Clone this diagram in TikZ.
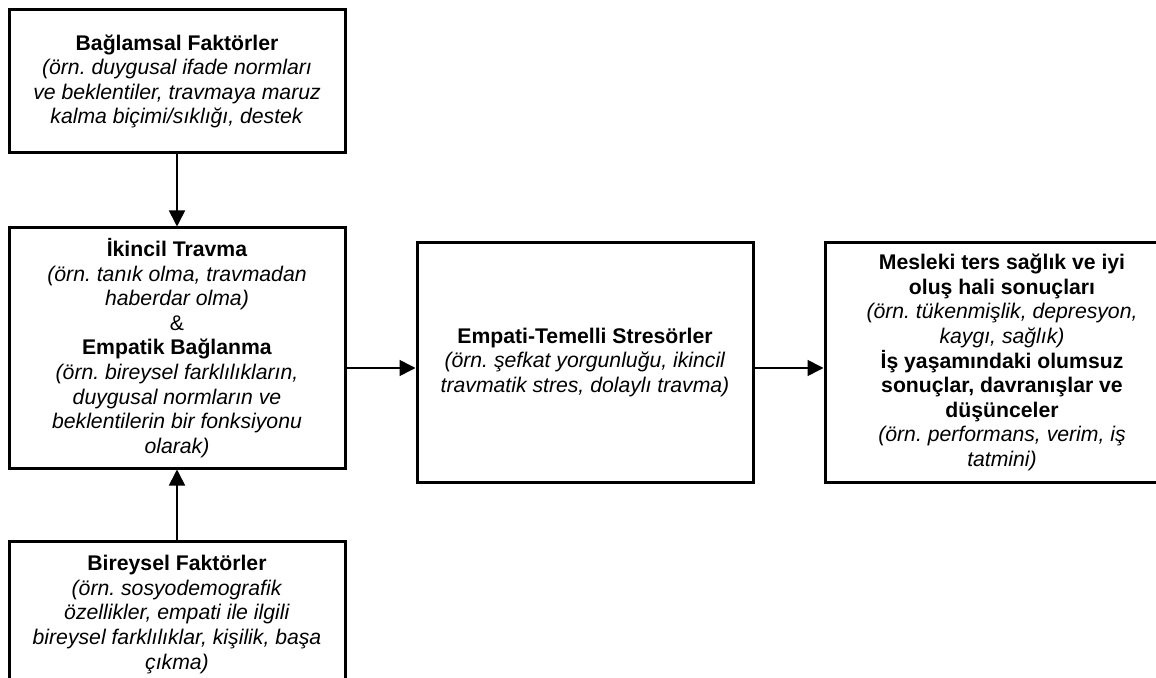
\documentclass[tikz,border=0pt]{standalone}
\usepackage{fontspec}
\setmainfont{Liberation Sans}
\frenchspacing
\usetikzlibrary{arrows.meta, positioning}

\begin{document}
\begin{tikzpicture}[x=0.5pt, y=-0.5pt]

        % 1. Frame of the picture (the figure is cut at the right and at the bottom)
        \useasboundingbox (0,0) rectangle (1156,678);
        \clip (0,0) rectangle (1156,678);

        % 2. Styles for the boxes and the arrows
        \tikzset{block/.style={draw=black, line width=1.5pt, fill=white, align=center, inner sep=0pt,
                 font=\fontsize{10.6}{12.3}\selectfont},
                 flow/.style={-{Triangle[width=8pt, length=8pt]}, line width=0.8pt}}

        % 3. Left column: context, trauma/empathy, individual factors
        \node[block, minimum width=168pt, minimum height=71.5pt] (context) at (177,81.5)
            {\textbf{Bağlamsal Faktörler}\\
             \textit{(örn. duygusal ifade normları}\\
             \textit{ve beklentiler, travmaya maruz}\\
             \textit{kalma biçimi/sıklığı, destek}};

        \node[block, minimum width=168pt, minimum height=120pt] (trauma) at (177,348)
            {\textbf{İkincil Travma}\\
             \textit{(örn. tanık olma, travmadan}\\
             \textit{haberdar olma)}\\
             \&\\
             \textbf{Empatik Bağlanma}\\
             \textit{(örn. bireysel farklılıkların,}\\
             \textit{duygusal normların ve}\\
             \textit{beklentilerin bir fonksiyonu}\\
             \textit{olarak)}};

        \node[block, minimum width=168pt, minimum height=73.5pt] (personal) at (177,614.5)
            {\textbf{Bireysel Faktörler}\\
             \textit{(örn. sosyodemografik}\\
             \textit{özellikler, empati ile ilgili}\\
             \textit{bireysel farklılıklar, kişilik, başa}\\
             \textit{çıkma)}};

        % 4. Middle and right boxes
        \node[block, minimum width=168pt, minimum height=119.5pt] (stress) at (585,362.5)
            {\textbf{Empati-Temelli Stresörler}\\
             \textit{(örn. şefkat yorgunluğu, ikincil}\\
             \textit{travmatik stres, dolaylı travma)}};

        \node[block, minimum width=177pt, minimum height=119.5pt] (outcome) at (1002,362.5)
            {\textbf{Mesleki ters sağlık ve iyi}\\
             \textbf{oluş hali sonuçları}\\
             \textit{(örn. tükenmişlik, depresyon,}\\
             \textit{kaygı, sağlık)}\\
             \textbf{İş yaşamındaki olumsuz}\\
             \textbf{sonuçlar, davranışlar ve}\\
             \textbf{düşünceler}\\
             \textit{(örn. performans, verim, iş}\\
             \textit{tatmini)}};

        % 5. Arrows
        \coordinate (stressIn) at ([yshift=-2.75pt]stress.west);
        \coordinate (outcomeIn) at ([yshift=-2.75pt]outcome.west);

        \draw[flow] (context) -- (trauma);
        \draw[flow] (personal) -- (trauma);
        \draw[flow] (trauma.east |- stressIn) -- (stressIn);
        \draw[flow] (stress.east |- outcomeIn) -- (outcomeIn);

\end{tikzpicture}
\end{document}
